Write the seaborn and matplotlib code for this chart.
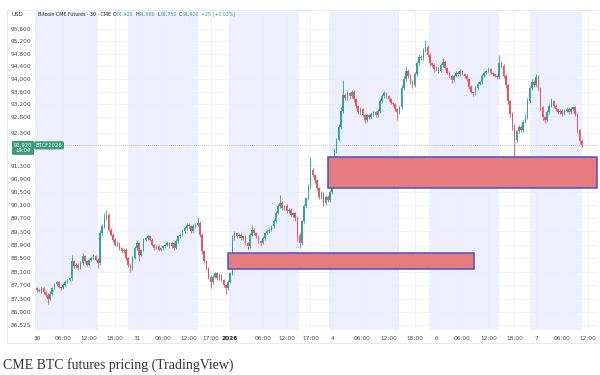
import numpy as np
import pandas as pd
import seaborn as sns
import matplotlib.pyplot as plt
from matplotlib.patches import Rectangle
from matplotlib.ticker import FixedLocator, FixedFormatter, NullLocator
import matplotlib.transforms as mtransforms

# 30-minute closes (USD)
closes = [
    87560, 87520, 87600, 87480, 87420, 87300, 87450, 87600, 87720, 87780,
    87650, 87600, 87700, 87800, 87850, 87900, 88400, 88250, 88300, 88200,
    88350, 88550, 88400, 88300, 88450, 88500, 88550, 88450, 88350, 89250,
    89450, 89700, 89800, 89350, 89200, 89050, 88900, 88950, 88800, 88700,
    88750, 88500, 88300, 88200, 88500, 88800, 88950, 88600, 88750, 89050,
    89100, 89150, 89050, 88900, 88800, 88850, 88750, 88800, 88850, 88900,
    88950, 88850, 88950, 88800, 89000, 89150, 89200, 89300, 89400, 89500,
    89450, 89300, 89450, 89500, 89550, 89200, 88700, 88400, 88200, 87950,
    87800, 87950, 88050, 87900, 88000, 87850, 87700, 87600, 87800, 88050,
    89100, 89250, 89150, 89200, 89100, 89150, 88950, 88850, 89200, 89350,
    89250, 89150, 89000, 88950, 89100, 89250, 89300, 89350, 89450, 89600,
    89850, 90050, 90150, 90000, 90050, 89900, 89950, 89800, 89850, 89700,
    89200, 88950, 89600, 90050, 90300, 90650, 91150, 91000, 90850, 90600,
    90350, 90450, 90150, 90350, 90250, 90500, 91300, 91750, 92100, 92500,
    93000, 93500, 93400, 93550, 93450, 93600, 93350, 93150, 92950, 93050,
    92850, 92700, 92850, 92800, 92900, 92950, 92850, 93000, 93300, 93450,
    93550, 93450, 93350, 93250, 93200, 93050, 92950, 93100, 93700, 94000,
    94250, 94100, 93900, 93800, 94150, 94500, 94700, 94650, 94900, 95000,
    94750, 94500, 94450, 94300, 94350, 94250, 94450, 94550, 94350, 94200,
    94100, 93950, 94100, 94200, 94150, 94250, 94150, 94100, 94000, 93750,
    93600, 93550, 93700, 93850, 93900, 94100, 94200, 94250, 94300, 94200,
    94150, 94100, 94050, 94500, 94400, 94100, 93800, 93300, 92900, 92500,
    92100, 92350, 92500, 92400, 92650, 92800, 93300, 93700, 93900, 93800,
    94050, 93700, 93100, 92800, 92700, 92950, 93150, 93300, 93150, 93050,
    92950, 93000, 92900, 93000, 93050, 92950, 93050, 93100, 92900, 92400,
    92050, 91920,
]
first_open = 87600

# wick length above / below the body (USD)
wick_hi = [
    40, 30, 50, 40, 30, 40, 60, 50, 40, 50,
    40, 30, 50, 40, 30, 50, 200, 50, 40, 60,
    50, 100, 40, 30, 40, 50, 60, 40, 50, 100,
    60, 150, 150, 50, 40, 60, 40, 50, 30, 40,
    50, 40, 30, 40, 50, 60, 50, 40, 30, 60,
    50, 40, 30, 40, 30, 40, 30, 40, 50, 40,
    50, 40, 30, 40, 60, 50, 40, 60, 50, 40,
    50, 40, 60, 50, 150, 60, 40, 30, 40, 30,
    40, 50, 40, 30, 60, 40, 30, 40, 50, 40,
    100, 60, 40, 50, 40, 50, 30, 40, 50, 150,
    40, 30, 40, 30, 50, 40, 60, 50, 40, 60,
    50, 60, 250, 50, 40, 60, 40, 50, 30, 40,
    60, 40, 50, 60, 50, 80, 400, 60, 40, 50,
    40, 60, 50, 40, 50, 60, 100, 80, 60, 80,
    100, 450, 60, 80, 50, 60, 40, 50, 40, 60,
    40, 30, 50, 40, 60, 50, 40, 60, 80, 60,
    70, 40, 50, 40, 30, 40, 30, 60, 100, 80,
    120, 60, 40, 50, 60, 70, 80, 60, 80, 250,
    80, 60, 40, 50, 60, 40, 60, 100, 40, 30,
    40, 30, 50, 60, 40, 50, 40, 30, 40, 30,
    40, 30, 60, 50, 40, 60, 50, 40, 60, 40,
    30, 40, 50, 250, 80, 60, 40, 60, 40, 50,
    80, 60, 50, 40, 60, 80, 100, 80, 90, 60,
    100, 60, 40, 50, 40, 60, 50, 100, 40, 50,
    40, 50, 40, 60, 50, 40, 60, 50, 40, 30,
    40, 60,
]
wick_lo = [
    60, 40, 50, 40, 60, 150, 50, 40, 30, 50,
    40, 60, 30, 40, 50, 30, 60, 50, 40, 60,
    40, 50, 60, 40, 50, 30, 40, 50, 150, 60,
    50, 40, 60, 50, 40, 60, 50, 40, 50, 60,
    40, 50, 60, 100, 50, 40, 50, 200, 40, 50,
    40, 60, 40, 50, 60, 40, 50, 40, 60, 40,
    40, 50, 40, 60, 40, 50, 40, 30, 40, 50,
    40, 60, 50, 40, 50, 60, 80, 60, 70, 80,
    200, 60, 50, 60, 40, 60, 50, 150, 60, 50,
    60, 50, 60, 40, 60, 50, 60, 80, 40, 50,
    60, 50, 60, 80, 40, 50, 40, 60, 50, 40,
    50, 40, 60, 50, 60, 40, 60, 50, 60, 80,
    200, 150, 60, 50, 60, 50, 80, 60, 80, 60,
    80, 60, 80, 60, 70, 60, 80, 60, 80, 60,
    80, 60, 80, 60, 70, 60, 80, 60, 70, 60,
    60, 100, 50, 60, 40, 60, 50, 40, 60, 50,
    40, 60, 50, 40, 60, 50, 250, 60, 50, 60,
    60, 80, 60, 100, 50, 60, 50, 60, 50, 60,
    60, 80, 60, 70, 50, 60, 40, 60, 80, 60,
    60, 80, 50, 40, 60, 50, 40, 60, 70, 80,
    60, 100, 50, 40, 60, 50, 40, 60, 40, 50,
    60, 50, 40, 60, 60, 80, 80, 100, 90, 100,
    500, 80, 60, 70, 60, 50, 60, 50, 60, 60,
    60, 80, 100, 80, 100, 60, 50, 40, 60, 50,
    60, 40, 60, 50, 40, 60, 40, 50, 80, 100,
    80, 60,
]

# time axis (bar index -> label)
tick_pos = [0, 12, 24, 36, 46, 58, 70, 80, 89, 104, 115, 126,
            136, 150, 162, 174, 184, 196, 208, 220, 230, 242, 254]
tick_labels = ["30", "06:00", "12:00", "18:00", "31", "06:00", "12:00", "17:00",
               "2026", "06:00", "12:00", "17:00", "4", "06:00", "12:00", "18:00",
               "6", "06:00", "12:00", "18:00", "7", "06:00", "12:00"]

price_ticks = [95600, 95200, 94800, 94400, 94000, 93600, 93200, 92800, 92300,
               91300, 90900, 90500, 90100, 89700, 89300, 88900, 88500, 88100,
               87700, 87300, 86900, 86525]

# shaded sessions (bar index ranges)
sessions = [(-1, 28), (42, 74.3), (88.5, 120.7), (134.7, 166.7),
            (180.8, 212.9), (227.2, 251.2)]

# drawn zones: start bar, end bar, low, high
zones = [(134.2, 257.9, 90600, 91570), (87.9, 201.5, 88180, 88660)]

last_price = 91920
ohlc_header = [("O", "91,905"), ("H", "91,980"), ("L", "91,750"), ("C", "91,920")]
change_text = "+25 (+0.03%)"

df = pd.DataFrame({"close": closes, "wick_hi": wick_hi, "wick_lo": wick_lo})
df["bar"] = np.arange(len(df))
df["open"] = df["close"].shift(1).fillna(first_open)
df["high"] = df[["open", "close"]].max(axis=1) + df["wick_hi"]
df["low"] = df[["open", "close"]].min(axis=1) - df["wick_lo"]
df["up"] = df["close"] >= df["open"]

UP = "#2ea58e"
DOWN = "#e9545e"
colors = np.where(df["up"], UP, DOWN)

sns.set_theme(style="white")
plt.rcParams["font.family"] = ["DejaVu Sans"]

fig = plt.figure(figsize=(6, 3.75), dpi=100)
W, H = 600, 375
ax = fig.add_axes([35 / W, 1 - 330 / H, 563 / W, (330 - 11.7) / H])
ax.set_yscale("log")
ax.set_ylim(86383, 96148)
ax.set_xlim(-0.92, 258.5)

for a, b in sessions:
    ax.axvspan(a, b, color="#edf0fc", lw=0, zorder=0)

ax.set_axisbelow(True)
ax.grid(True, color="#eceef3", lw=0.5)

ax.vlines(df["bar"], df["low"], df["high"], colors=colors, lw=0.6, zorder=2)
body = np.maximum((df["close"] - df["open"]).abs(), 10)
ax.bar(df["bar"], body, bottom=df[["open", "close"]].min(axis=1),
       width=0.7, color=colors, lw=0, zorder=2)

for x0, x1, lo, hi in zones:
    ax.add_patch(Rectangle((x0, lo), x1 - x0, hi - lo, facecolor="#e67b80",
                           edgecolor="#4752c4", lw=1.1, zorder=3))

ax.axhline(last_price, color="#9fabc2", lw=0.6, ls=(0, (1, 1.5)), zorder=1.5)

ax.yaxis.set_major_locator(FixedLocator(price_ticks))
ax.yaxis.set_major_formatter(FixedFormatter([f"{v:,}" for v in price_ticks]))
ax.yaxis.set_minor_locator(NullLocator())
ax.set_xticks(tick_pos, tick_labels)
ax.tick_params(axis="both", length=0, labelsize=4.2, labelcolor="#4a4a4a")
ax.tick_params(axis="y", pad=3)
ax.tick_params(axis="x", pad=4)
for lab in ax.get_xticklabels():
    if lab.get_text() == "2026":
        lab.set_fontweight("bold")
        lab.set_color("#222222")
for s in ax.spines.values():
    s.set_visible(False)
ax.set_xlabel("")
ax.set_ylabel("")

# price tags at the last price
ytr = ax.get_yaxis_transform()
ax.text(-0.0213, last_price, f"{last_price:,}\n19:04",
        transform=mtransforms.offset_copy(ytr, fig=fig, y=-1.8, units="points"),
        ha="center", va="center", fontsize=3.8, color="white", linespacing=1.1,
        bbox=dict(boxstyle="round,pad=0.35,rounding_size=0.3", fc="#3c9c7c", ec="none"),
        clip_on=False, zorder=5)
ax.text(0.0249, last_price, "BTCF2026", transform=ytr, ha="center", va="center",
        fontsize=3.8, color="white",
        bbox=dict(boxstyle="round,pad=0.3,rounding_size=0.3", fc="#3c9c7c", ec="none"),
        clip_on=False, zorder=5)

# frame
fig.patches.append(Rectangle((7 / W, 1 - 343 / H), 1.0, (343 - 10) / H,
                             transform=fig.transFigure, fill=False,
                             ec="#e3e6ec", lw=0.6))

# header
fig.text(17 / W, 1 - 14.5 / H, "USD", ha="center", va="center",
         fontsize=4.0, color="#333333")
renderer = fig.canvas.get_renderer()
x = 37.7
pieces = [("Bitcoin CME Futures · 30 · CME", "#222222", 2.0)]
for letter, val in ohlc_header:
    pieces.append((letter, "#222222", 0.3))
    pieces.append((val, UP, 2.0))
pieces.append((change_text, UP, 0))
for txt, col, gap in pieces:
    t = fig.text(x / W, 1 - 14.5 / H, txt, ha="left", va="center",
                 fontsize=3.4, color=col)
    x += t.get_window_extent(renderer).width + gap

# caption
fig.text(3 / W, 1 - 365 / H, "CME BTC futures pricing (TradingView)",
         ha="left", va="center", fontsize=10, color="#333333",
         family=["Liberation Serif"])

fig.savefig("out.png", dpi=100)
